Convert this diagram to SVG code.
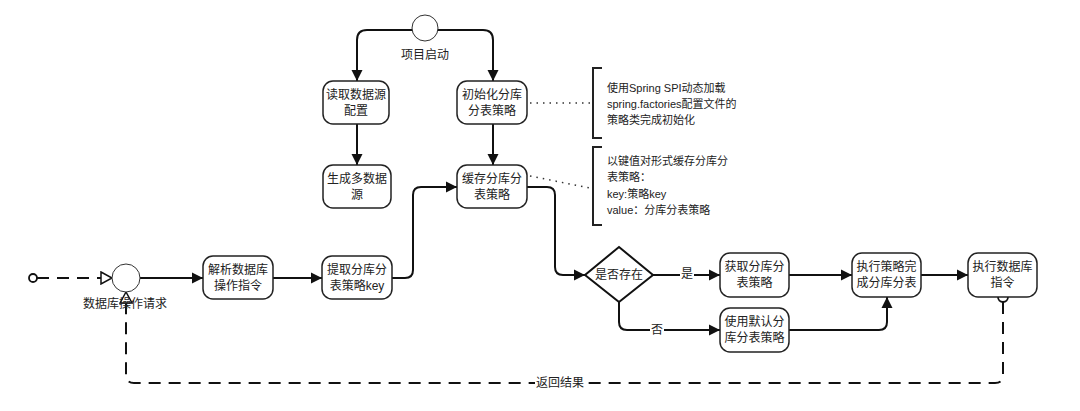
<svg xmlns="http://www.w3.org/2000/svg" width="1080" height="411" viewBox="0 0 1080 411">
<defs>
<marker id="arr" markerUnits="userSpaceOnUse" markerWidth="12" markerHeight="12" refX="11" refY="6" orient="auto"><path d="M0,0.5 L11,6 L0,11.5 z" fill="#111"/></marker>
<marker id="open" markerUnits="userSpaceOnUse" markerWidth="14" markerHeight="14" refX="12" refY="7" orient="auto"><path d="M1,1 L12,7 L1,13 z" fill="#fff" stroke="#111" stroke-width="1.5"/></marker>
</defs>
<style>
.box{fill:#fff;stroke:#222;stroke-width:1.5}
.t{font-family:"Liberation Sans","Noto Sans CJK SC",sans-serif;font-size:12px;fill:#222;text-anchor:middle;dominant-baseline:central}
.a{font-family:"Liberation Sans","Noto Sans CJK SC",sans-serif;font-size:11px;fill:#222;dominant-baseline:central}
.e{fill:none;stroke:#111;stroke-width:2}
.d{fill:none;stroke:#111;stroke-width:2;stroke-dasharray:12,8}
.dot{fill:none;stroke:#333;stroke-width:1.5;stroke-dasharray:1.5,5}
.br{fill:none;stroke:#222;stroke-width:2}
</style>
<rect width="1080" height="411" fill="#fff"/>

<g id="connectors">
<path class="e" d="M412,30 H367 Q357,30 357,40 V81" marker-end="url(#arr)"/>
<path class="e" d="M438,30 H483 Q493,30 493,40 V81" marker-end="url(#arr)"/>
<path class="e" d="M357,124 V165" marker-end="url(#arr)"/>
<path class="e" d="M493,124 V165" marker-end="url(#arr)"/>
<path class="d" d="M37,278 H112" marker-end="url(#open)"/>
<path class="e" d="M140,278 H203" marker-end="url(#arr)"/>
<path class="e" d="M273,278 H322" marker-end="url(#arr)"/>
<path class="e" d="M392,278 H405 Q413,278 413,270 V195 Q413,187 421,187 H457" marker-end="url(#arr)"/>
<path class="e" d="M527,187 H547 Q555,187 555,195 V267 Q555,275 563,275 H585" marker-end="url(#arr)"/>
<path class="e" d="M653,275 H720" marker-end="url(#arr)"/>
<path class="e" d="M619,302 V322 Q619,330 627,330 H720" marker-end="url(#arr)"/>
<path class="e" d="M789,275 H852" marker-end="url(#arr)"/>
<path class="e" d="M789,330 H879 Q887,330 887,322 V297" marker-end="url(#arr)"/>
<path class="e" d="M921,275 H968" marker-end="url(#arr)"/>
<path class="d" d="M1003,302 V375 Q1003,383 995,383 H134 Q126,383 126,375 V292" marker-end="url(#open)"/>
<circle cx="1003" cy="297" r="5" fill="#fff" stroke="#111" stroke-width="1.8"/>
<circle cx="33" cy="278" r="4" fill="#fff" stroke="#111" stroke-width="1.8"/>
<rect x="680" y="267" width="14" height="16" fill="#fff"/>
<text class="t" x="687" y="274">是</text>
<rect x="650" y="322" width="14" height="16" fill="#fff"/>
<text class="t" x="657" y="330">否</text>
<rect x="535" y="375" width="50" height="16" fill="#fff"/>
<text class="t" x="560" y="383">返回结果</text>
<path class="dot" d="M530,103 H590"/>
<path class="dot" d="M530,176 L590,188"/>
</g>

<g id="start-project">
<circle cx="425" cy="28" r="13" fill="#fff" stroke="#333" stroke-width="1"/>
<text class="t" x="425" y="55">项目启动</text>
</g>

<g id="read-ds">
<rect class="box" x="323" y="81" width="66" height="43" rx="10"/>
<text class="t" x="356" y="95">读取数据源</text>
<text class="t" x="356" y="111">配置</text>
</g>

<g id="init-strategy">
<rect class="box" x="457" y="81" width="70" height="43" rx="10"/>
<text class="t" x="492" y="95">初始化分库</text>
<text class="t" x="492" y="111">分表策略</text>
</g>

<g id="gen-ds">
<rect class="box" x="323" y="165" width="68" height="43" rx="10"/>
<text class="t" x="357" y="179">生成多数据</text>
<text class="t" x="357" y="195">源</text>
</g>

<g id="cache-strategy">
<rect class="box" x="457" y="165" width="70" height="43" rx="10"/>
<text class="t" x="492" y="179">缓存分库分</text>
<text class="t" x="492" y="195">表策略</text>
</g>

<g id="note1">
<path class="br" d="M602,68 H593 V138 H602"/>
<text class="a" x="607" y="88">使用Spring SPI动态加载</text>
<text class="a" x="607" y="104">spring.factories配置文件的</text>
<text class="a" x="607" y="120">策略类完成初始化</text>
</g>

<g id="note2">
<path class="br" d="M602,147 H593 V225 H602"/>
<text class="a" x="607" y="161">以键值对形式缓存分库分</text>
<text class="a" x="607" y="177">表策略：</text>
<text class="a" x="607" y="194">key:策略key</text>
<text class="a" x="607" y="210">value：分库分表策略</text>
</g>

<g id="db-request">
<circle cx="126" cy="278" r="14" fill="#fff" stroke="#333" stroke-width="1"/>
<text class="t" x="125" y="304">数据库操作请求</text>
</g>

<g id="parse">
<rect class="box" x="203" y="256" width="70" height="43" rx="10"/>
<text class="t" x="238" y="270">解析数据库</text>
<text class="t" x="238" y="286">操作指令</text>
</g>

<g id="extract-key">
<rect class="box" x="322" y="256" width="70" height="43" rx="10"/>
<text class="t" x="357" y="270">提取分库分</text>
<text class="t" x="357" y="286">表策略key</text>
</g>

<g id="exists">
<path d="M619,247 L653,275 L619,302 L585,275 z" fill="#fff" stroke="#111" stroke-width="2"/>
<text class="t" x="619" y="275">是否存在</text>
</g>

<g id="get-strategy">
<rect class="box" x="720" y="253" width="69" height="44" rx="10"/>
<text class="t" x="754.5" y="267">获取分库分</text>
<text class="t" x="754.5" y="283">表策略</text>
</g>

<g id="default-strategy">
<rect class="box" x="720" y="308" width="69" height="44" rx="10"/>
<text class="t" x="754.5" y="322">使用默认分</text>
<text class="t" x="754.5" y="338">库分表策略</text>
</g>

<g id="exec-strategy">
<rect class="box" x="852" y="253" width="69" height="44" rx="10"/>
<text class="t" x="886.5" y="267">执行策略完</text>
<text class="t" x="886.5" y="283">成分库分表</text>
</g>

<g id="exec-db">
<rect class="box" x="968" y="253" width="69" height="44" rx="10"/>
<text class="t" x="1002.5" y="267">执行数据库</text>
<text class="t" x="1002.5" y="283">指令</text>
</g>
</svg>
